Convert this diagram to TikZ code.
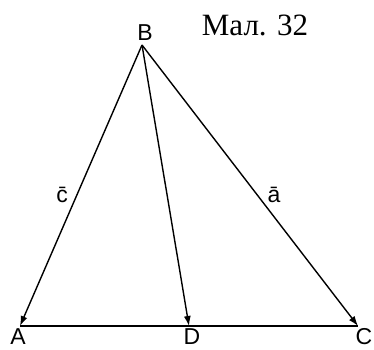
\documentclass[tikz,border=0pt]{standalone}
\usepackage{fontspec}
\setmainfont{Liberation Sans}
\newfontfamily\capfont{Liberation Serif}
\usetikzlibrary{arrows.meta}
\begin{document}
\begin{tikzpicture}[x=1pt,y=-1pt,
  vec/.style={line width=1.4pt,-{Latex[length=10pt,width=7pt]}},
  base/.style={line width=1.7pt},
  lbl/.style={inner sep=0pt,font=\fontsize{23}{25}\selectfont}]
\useasboundingbox (0,0) rectangle (374,349);
\coordinate (pB) at (142,45);
\coordinate (pA) at (20,326);
\coordinate (pD) at (189,326);
\coordinate (pC) at (358,326);
\draw[base] (pA) -- (pC);
\draw[vec] (pB) -- (pA);
\draw[vec] (pB) -- (pD);
\draw[vec] (pB) -- (pC);
\node[lbl] (lB) at (145,33) {B};
\node[lbl] (lA) at (18,337) {A};
\node[lbl] (lD) at (192,337) {D};
\node[lbl] (lC) at (364,337) {C};
\node[lbl] (lc) at (62,195) {\=c};
\node[lbl] (la) at (274,195) {\=a};
\node[inner sep=0pt,font=\capfont\fontsize{31}{33}\selectfont] (cap) at (255,25) {Мал. 32};
\end{tikzpicture}
\end{document}
